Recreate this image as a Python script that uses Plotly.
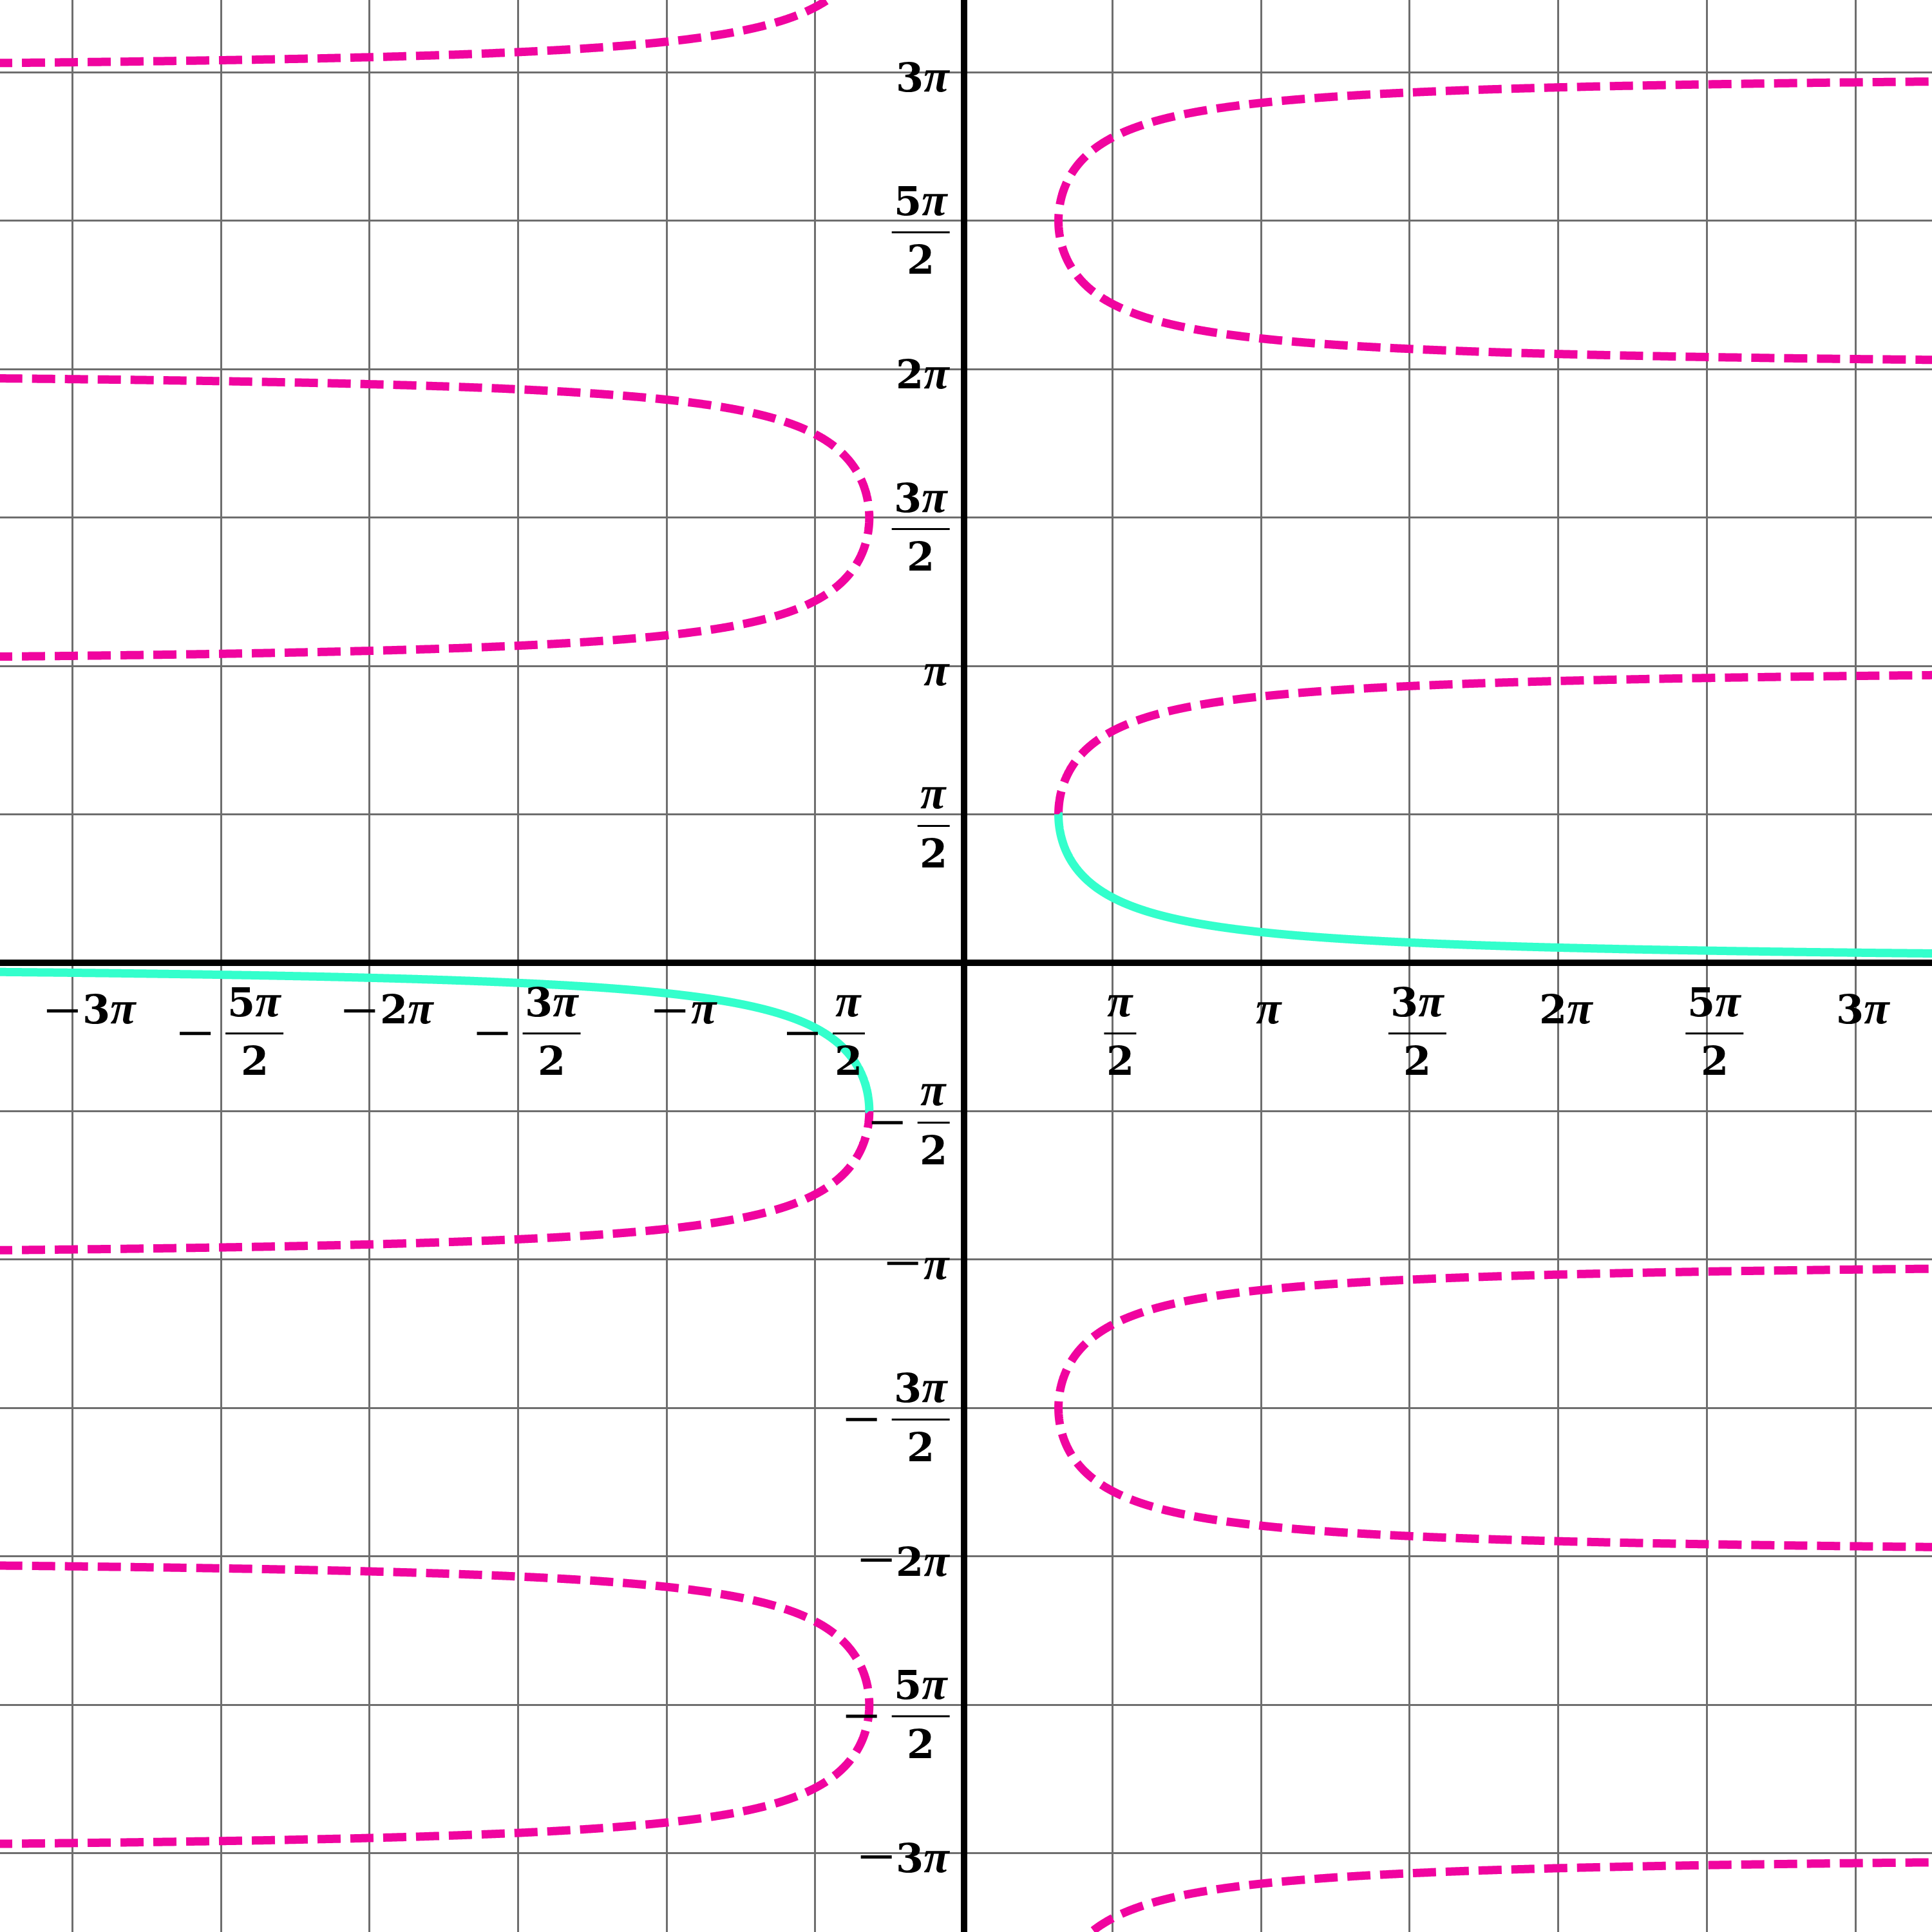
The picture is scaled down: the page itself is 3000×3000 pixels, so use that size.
import numpy as np
import plotly.graph_objects as go

PI = np.pi

# ---- axis window (data units) ----
X_RANGE = [-10.19, 10.235]
Y_RANGE = [-10.26, 10.19]

# ---- grid: multiples of pi/2 ----
GRID_MULTIPLES = [-6, -5, -4, -3, -2, -1, 0, 1, 2, 3, 4, 5, 6]

# ---- tick labels (multiples of pi/2) ----
TICK_MULTIPLES = [-6, -5, -4, -3, -2, -1, 1, 2, 3, 4, 5, 6]
TICK_NUMERATORS = ["3π", "5π", "2π", "3π", "π", "π", "π", "π", "3π", "2π", "5π", "3π"]
TICK_DENOMINATORS = [None, "2", None, "2", None, "2", "2", None, "2", None, "2", None]

# ---- curve: x = csc(y); principal branch y in [-pi/2, pi/2] is y = arccsc(x) ----
BRANCH_PERIODS = [-4, -3, -2, -1, 0, 1, 2, 3]   # y in (k*pi, (k+1)*pi)
PRINCIPAL_LIMITS = [-PI / 2, PI / 2]
X_CLIP = 11.0

CYAN = "#33FFCC"
MAGENTA = "#F0049F"
GRID = "#6E6E6E"
FONT = dict(family="DejaVu Serif", size=62, color="black", weight="bold")
PI_SPAN = "<span style='font-family:\"Liberation Serif\";font-size:72px'><i>π</i></span>"


def branch(y0, y1, n=3000):
    u = np.linspace(0.0, 1.0, n)
    y = y0 + (y1 - y0) * (1 - np.cos(np.pi * u)) / 2
    x = 1.0 / np.sin(y)
    return x, y


edge = np.arcsin(1.0 / X_CLIP)

mx, my = [], []
for k in BRANCH_PERIODS:
    lo, hi = k * PI + edge, (k + 1) * PI - edge
    if k == 0:
        lo = PRINCIPAL_LIMITS[1]
    if k == -1:
        hi = PRINCIPAL_LIMITS[0]
    x, y = branch(lo, hi)
    mx += list(x) + [None]
    my += list(y) + [None]

cx, cy = [], []
for lo, hi in [(PRINCIPAL_LIMITS[0], -edge), (edge, PRINCIPAL_LIMITS[1])]:
    x, y = branch(lo, hi)
    cx += list(x) + [None]
    cy += list(y) + [None]

fig = go.Figure()
fig.add_trace(go.Scatter(x=mx, y=my, mode="lines",
                         line=dict(color=MAGENTA, width=13, dash="36px,15px", simplify=False),
                         hoverinfo="skip", showlegend=False))
fig.add_trace(go.Scatter(x=cx, y=cy, mode="lines",
                         line=dict(color=CYAN, width=13, simplify=False),
                         hoverinfo="skip", showlegend=False))

annotations = []
shapes = []


def ann(x, y, text, xshift, yshift, xanchor="center"):
    annotations.append(dict(x=x, y=y, xref="x", yref="y", text=text, showarrow=False,
                            xanchor=xanchor, yanchor="middle", xshift=xshift, yshift=yshift,
                            font=FONT))


def hline(xa, ya, x0, x1, yp, width):
    shapes.append(dict(type="line", xref="x", yref="y", xsizemode="pixel", ysizemode="pixel",
                       xanchor=xa, yanchor=ya, x0=x0, x1=x1, y0=yp, y1=yp,
                       line=dict(color="black", width=width)))


def pitext(s):
    return s.replace("π", PI_SPAN)


MINUS_W = 48
MINUS_T = 5

for m, num, den in zip(TICK_MULTIPLES, TICK_NUMERATORS, TICK_DENOMINATORS):
    v = m * PI / 2
    neg = m < 0
    w = 50 if num == "π" else 90          # fraction bar width
    tw = 42 if num == "π" else 83         # integer label text width
    # ---------- x axis labels ----------
    if den is None:
        c = 58 if neg else 12
        ann(v, 0, pitext(num), c, -70)
        if neg:
            hline(v, 0, c - tw / 2 - 8 - MINUS_W, c - tw / 2 - 8, -75, MINUS_T)
    else:
        c = 52 if neg else 12
        bar = 110
        ann(v, 0, pitext(num), c, -bar + 51)
        ann(v, 0, den, c, -bar - 43)
        hline(v, 0, c - w / 2, c + w / 2, -bar, 3)
        if neg:
            hline(v, 0, c - w / 2 - 23 - MINUS_W, c - w / 2 - 23, -bar, MINUS_T)
    # ---------- y axis labels ----------
    if den is None:
        right = -20
        ann(0, v, pitext(num), right, -6, xanchor="right")
        if neg:
            hline(0, v, right - tw - 9 - MINUS_W, right - tw - 9, -6, MINUS_T)
    else:
        bar = 18
        c = -22 - w / 2
        ann(0, v, pitext(num), c, -bar + 51)
        ann(0, v, den, c, -bar - 43)
        hline(0, v, c - w / 2, c + w / 2, -bar, 3)
        if neg:
            hline(0, v, c - w / 2 - 23 - MINUS_W, c - w / 2 - 23, -bar, MINUS_T)

grid_vals = [g * PI / 2 for g in GRID_MULTIPLES]
axis_common = dict(showgrid=True, gridcolor=GRID, gridwidth=3, tickvals=grid_vals,
                   showticklabels=False, ticks="", zeroline=True, zerolinecolor="black",
                   zerolinewidth=10, showline=False, fixedrange=True)

fig.update_layout(
    width=3000, height=3000,
    margin=dict(l=0, r=0, t=0, b=0, pad=0),
    paper_bgcolor="white", plot_bgcolor="white",
    xaxis=dict(range=X_RANGE, **axis_common),
    yaxis=dict(range=Y_RANGE, **axis_common),
    annotations=annotations,
    shapes=shapes,
    showlegend=False,
)

fig.write_html("out.html", config={"displayModeBar": False},
               post_script="document.body.style.margin='0';")
